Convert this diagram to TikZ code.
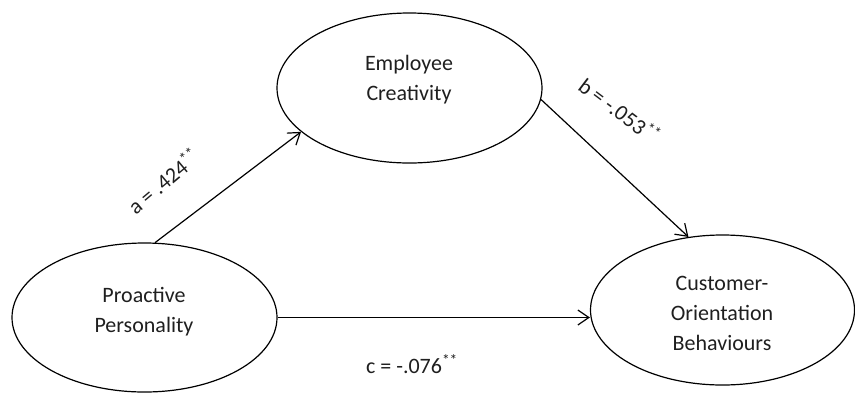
\documentclass[tikz,border=0pt]{standalone}
\usepackage{fontspec}
\setmainfont{Carlito}
\usetikzlibrary{shapes.geometric,arrows.meta}
\tikzset{
  construct/.style={draw=black, ellipse, line width=1.2pt, inner sep=0pt},
  ctext/.style={align=center, font=\fontsize{22}{30}\selectfont, text=black!88},
  coef/.style={font=\fontsize{22}{26}\selectfont, text=black!88, inner sep=0pt},
  path/.style={line width=1.2pt, -{Straight Barb[length=11pt,width=15pt,line width=1.2pt]}}
}
\begin{document}
\begin{tikzpicture}[x=1pt,y=-1pt]
\useasboundingbox (0,0) rectangle (855,392);
\node[construct, minimum width=265pt, minimum height=150pt] (ec) at (409.5,88) {};
\node[construct, minimum width=265pt, minimum height=149pt] (pp) at (144.5,317.5) {};
\node[construct, minimum width=264pt, minimum height=150pt] (cb) at (722.5,310) {};
\node[ctext] (ect) at (409,80) {Employee\\Creativity};
\node[ctext] (ppt) at (144,312) {Proactive\\Personality};
\node[ctext] (cbt) at (722,313) {Customer-\\Orientation\\Behaviours};
\draw[path] (pp.82) -- (ec.202);
\draw[path] (ec.355) -- (cb.115);
\draw[path] (pp.east) -- (pp.east -| cb.west);
\node[coef, rotate=40] (la) at (163,181) {a = .424\textsuperscript{**}};
\node[coef, rotate=-37] (lb) at (620,110) {b = -.053\textsuperscript{**}};
\node[coef] (lc) at (412,364) {c = -.076\textsuperscript{**}};
\end{tikzpicture}
\end{document}
